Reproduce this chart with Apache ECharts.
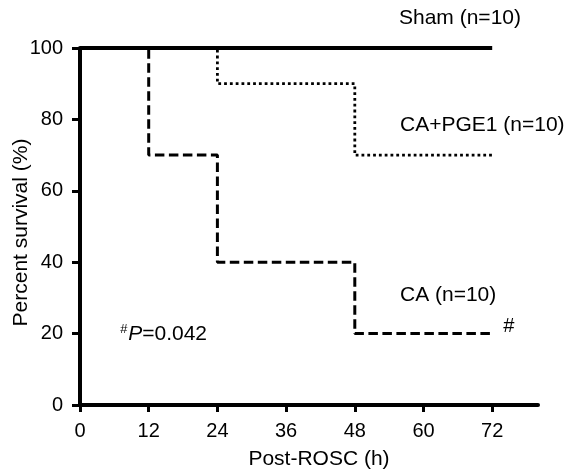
<!DOCTYPE html>
<html>
<head>
<meta charset="utf-8">
<script src="https://cdn.jsdelivr.net/npm/echarts@6/dist/echarts.min.js"></script>
<style>
    html, body { margin: 0; padding: 0; background: #fff; }
    #mainChart { width: 571px; height: 475px; }
</style>
</head>
<body>
<div id="mainChart"></div>
<script>
// Kaplan-Meier data: time (h) and percent survival at each step
const shamTime = [0, 72];
const shamSurv = [100, 100];
const pgeTime = [0, 24, 48, 72];
const pgeSurv = [100, 90, 70, 70];
const caTime = [0, 12, 24, 48, 72];
const caSurv = [100, 70, 40, 20, 20];
const xTicks = [0, 12, 24, 36, 48, 60, 72];

const font = 'Liberation Sans, Arial, Helvetica, sans-serif';

function toPairs(xs, ys) {
    const out = [];
    for (let i = 0; i < xs.length; i++) {
        out.push([xs[i], ys[i]]);
    }
    return out;
}

const myChart = echarts.init(document.getElementById('mainChart'));
const option = {
    animation: false,
    textStyle: { fontFamily: font, color: '#000' },
    grid: { left: 80, right: 33, top: 48, bottom: 70, containLabel: false, outerBoundsMode: 'none' },
    xAxis: {
        type: 'value',
        min: 0,
        max: 80,
        name: 'Post-ROSC (h)',
        nameLocation: 'middle',
        nameGap: 44,
        nameMoveOverlap: false,
        nameTextStyle: { fontSize: 21, color: '#000', fontFamily: font, padding: [0, 0, 0, 20] },
        axisLine: { lineStyle: { color: '#000', width: 4 } },
        axisTick: { customValues: xTicks, length: 7, lineStyle: { color: '#000', width: 3 } },
        axisLabel: { customValues: xTicks, fontSize: 20, color: '#000', fontFamily: font, margin: 16 },
        splitLine: { show: false }
    },
    yAxis: {
        type: 'value',
        min: 0,
        max: 100,
        interval: 20,
        name: 'Percent survival (%)',
        nameLocation: 'middle',
        nameGap: 48,
        nameMoveOverlap: false,
        nameTextStyle: { fontSize: 21, color: '#000', fontFamily: font, padding: [0, 12, 0, 0] },
        axisLine: { show: true, lineStyle: { color: '#000', width: 4 } },
        axisTick: { show: true, length: 8, lineStyle: { color: '#000', width: 3 } },
        axisLabel: { fontSize: 20, color: '#000', fontFamily: font, margin: 17 },
        splitLine: { show: false }
    },
    series: [
        {
            name: 'Sham',
            type: 'line',
            step: 'end',
            symbol: 'none',
            data: toPairs(shamTime, shamSurv),
            lineStyle: { color: '#000', width: 4, type: 'solid' },
            z: 3
        },
        {
            name: 'CA+PGE1',
            type: 'line',
            step: 'end',
            symbol: 'none',
            data: toPairs(pgeTime, pgeSurv),
            lineStyle: { color: '#000', width: 2.8, type: [2.8, 3] },
            z: 2
        },
        {
            name: 'CA',
            type: 'line',
            step: 'end',
            symbol: 'none',
            data: toPairs(caTime, caSurv),
            lineStyle: { color: '#000', width: 3, type: [9.5, 4.5] },
            z: 2
        }
    ],
    graphic: [
        { type: 'text', left: 399, top: 8, style: { text: 'Sham (n=10)', font: '21px ' + font, fill: '#000' } },
        { type: 'text', left: 400, top: 115, style: { text: 'CA+PGE1 (n=10)', font: '21px ' + font, fill: '#000' } },
        { type: 'text', left: 400, top: 285, style: { text: 'CA (n=10)', font: '21px ' + font, fill: '#000' } },
        { type: 'text', left: 503, top: 316, style: { text: '#', font: 'italic 20px ' + font, fill: '#000' } },
        {
            type: 'text', left: 120, top: 323,
            style: {
                text: '{s|#}{i|P}=0.042',
                font: '21px ' + font,
                fill: '#000',
                rich: {
                    s: { fontSize: 13, fontStyle: 'italic', verticalAlign: 'top', padding: [0, 1, 9, 0], fontFamily: font },
                    i: { fontSize: 21, fontStyle: 'italic', fontFamily: font }
                }
            }
        }
    ]
};
myChart.setOption(option);
</script>
</body>
</html>
